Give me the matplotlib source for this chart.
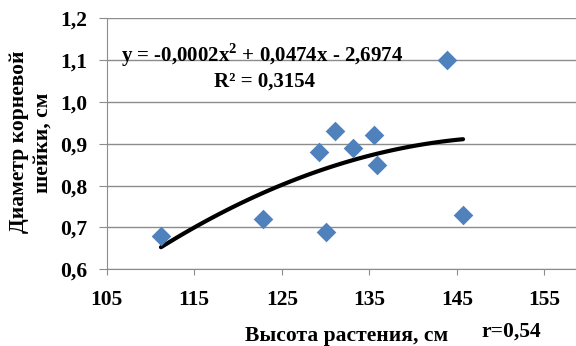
import numpy as np
import matplotlib.pyplot as plt

# plant height (cm) and root collar diameter (cm)
height = [111.2, 122.9, 129.2, 130.1, 131.1, 133.1, 135.5, 135.9, 143.9, 145.7]
diameter = [0.68, 0.72, 0.88, 0.69, 0.93, 0.89, 0.92, 0.85, 1.10, 0.73]

x_ticks = [105, 115, 125, 135, 145, 155]
y_ticks = [0.6, 0.7, 0.8, 0.9, 1.0, 1.1, 1.2]
y_labels = ['0,6', '0,7', '0,8', '0,9', '1,0', '1,1', '1,2']

plt.rcParams['font.family'] = 'Liberation Serif'
plt.rcParams['font.weight'] = 'bold'
plt.rcParams['mathtext.fontset'] = 'custom'
plt.rcParams['mathtext.rm'] = 'Liberation Serif:bold'
plt.rcParams['mathtext.bf'] = 'Liberation Serif:bold'

fig = plt.figure(figsize=(5.76, 3.46), dpi=100)
ax = fig.add_axes([0.1852, 0.2217, 0.8148, 0.7253])

# quadratic trend line fitted to the points
coef = np.polyfit(height, diameter, 2)
xs = np.linspace(min(height), max(height), 100)
ax.plot(xs, np.polyval(coef, xs), color='black', lw=3, solid_capstyle='round', zorder=2)

ax.scatter(height, diameter, marker='D', s=100, color='#4F81BD', zorder=3, linewidths=0)

ax.set_xlim(105, 158.6)
ax.set_ylim(0.6, 1.2)
ax.set_xticks(x_ticks)
ax.set_yticks(y_ticks)
ax.set_yticklabels(y_labels)
ax.grid(axis='y', color='#8c8c8c', lw=1)
ax.set_axisbelow(True)
ax.tick_params(axis='x', length=4, pad=11, labelsize=15.5, color='#8c8c8c')
ax.tick_params(axis='y', length=6, pad=8, labelsize=15.5, color='#8c8c8c')
for s in ['top', 'right']:
    ax.spines[s].set_visible(False)
for s in ['left', 'bottom']:
    ax.spines[s].set_color('#8c8c8c')

fig.text(121 / 576, 1 - 55 / 346, r'y = -0,0002x$^\mathbf{2}$ + 0,0474x - 2,6974',
         fontsize=15, fontweight='bold', va='center', ha='left')
fig.text(264 / 576, 1 - 82 / 346, 'R² = 0,3154', fontsize=15, fontweight='bold',
         va='center', ha='center')

fig.text(19 / 576, 1 - 142 / 346, 'Диаметр корневой', rotation=90, fontsize=15.5,
         fontweight='bold', ha='center', va='center')
fig.text(43 / 576, 1 - 143 / 346, 'шейки, см', rotation=90, fontsize=15.5,
         fontweight='bold', ha='center', va='center')
fig.text(347 / 576, 1 - 336 / 346, 'Высота растения, см', fontsize=15.5,
         fontweight='bold', ha='center', va='center')
fig.text(481 / 576, 1 - 332 / 346, 'r=0,54', fontsize=15.5,
         fontweight='bold', ha='left', va='center')

fig.savefig('out.png', dpi=100)
